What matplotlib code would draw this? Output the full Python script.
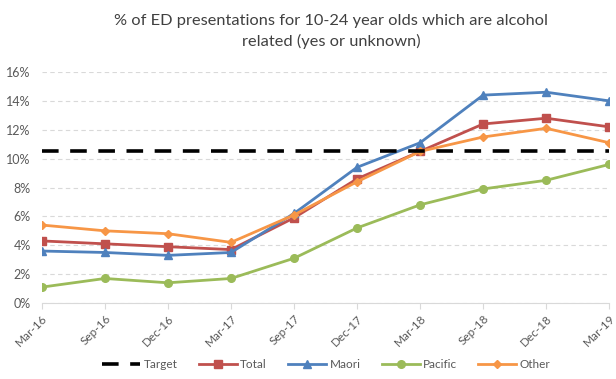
import matplotlib
matplotlib.use("Agg")
import matplotlib.pyplot as plt
from matplotlib.ticker import FuncFormatter

quarters = ["Mar-16", "Sep-16", "Dec-16", "Mar-17", "Sep-17", "Dec-17",
            "Mar-18", "Sep-18", "Dec-18", "Mar-19"]
target = 10.5
total = [4.3, 4.1, 3.9, 3.7, 5.9, 8.6, 10.5, 12.4, 12.8, 12.2]
maori = [3.6, 3.5, 3.3, 3.5, 6.2, 9.4, 11.1, 14.4, 14.6, 14.0]
pacific = [1.1, 1.7, 1.4, 1.7, 3.1, 5.2, 6.8, 7.9, 8.5, 9.6]
other = [5.4, 5.0, 4.8, 4.2, 6.1, 8.4, 10.5, 11.5, 12.1, 11.1]

plt.rcParams['font.family'] = ['Lato', 'DejaVu Sans']

fig = plt.figure(figsize=(6.16, 3.79), dpi=100)
ax = fig.add_axes([0.068, 0.2005, 0.921, 0.6095])

x = list(range(len(quarters)))
ax.plot(x, [target] * len(x), color="black", lw=2.6, ls=(0, (4.6, 3.2)), label="Target", zorder=5)
ax.plot(x, total, color="#C0504D", lw=2.0, marker="s", ms=5.5, label="Total", zorder=3)
ax.plot(x, maori, color="#4F81BD", lw=2.0, marker="^", ms=6, label="Maori", zorder=3)
ax.plot(x, pacific, color="#9BBB59", lw=2.0, marker="o", ms=5.5, label="Pacific", zorder=3)
ax.plot(x, other, color="#F79646", lw=2.0, marker="D", ms=4.5, label="Other", zorder=4)

ax.set_xlim(0, len(x) - 1)
ax.set_ylim(0, 16)
ax.set_yticks(range(0, 17, 2))
ax.yaxis.set_major_formatter(FuncFormatter(lambda v, p: f"{v:.0f}%"))
ax.set_xticks(x)
ax.set_xticklabels(quarters, rotation=45, ha="right", rotation_mode="anchor")
ax.tick_params(axis="y", length=0, labelsize=9, colors="#595959", pad=8)
ax.tick_params(axis="x", length=4, color="#D9D9D9", labelsize=8.5, labelcolor="#595959", pad=3)

ax.grid(axis="y", color="#D9D9D9", ls=(0, (4, 3)), lw=0.8)
ax.set_axisbelow(True)
for s in ["top", "right", "left"]:
    ax.spines[s].set_visible(False)
ax.spines["bottom"].set_color("#D9D9D9")

fig.text(0.538, 0.962, "% of ED presentations for 10-24 year olds which are alcohol\nrelated (yes or unknown)",
         ha="center", va="top", fontsize=11.8, color="#404040", linespacing=1.45)

fig.legend(loc="lower center", bbox_to_anchor=(0.53, -0.005), ncol=5, frameon=False,
           fontsize=8.5, labelcolor="#595959", handlelength=3.2, columnspacing=1.8,
           handletextpad=0.3)

fig.savefig("out.png", dpi=100, facecolor="white")
